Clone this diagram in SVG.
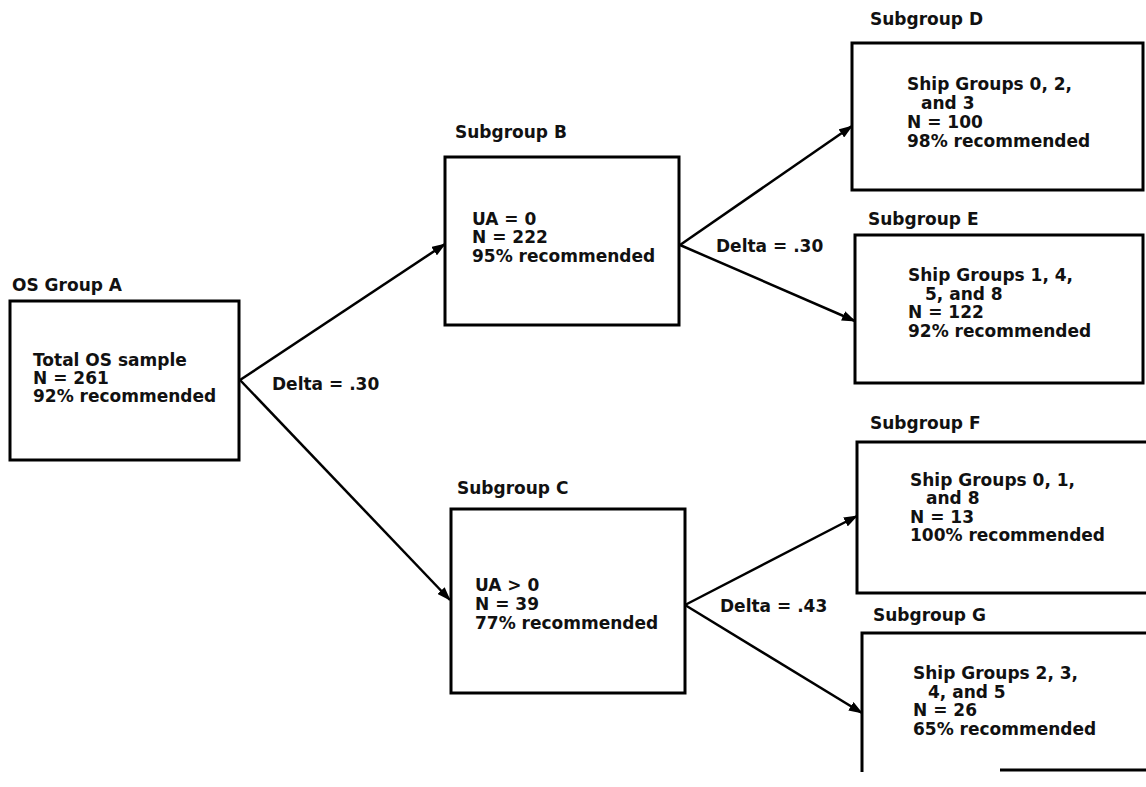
<svg xmlns="http://www.w3.org/2000/svg" width="1146" height="787" viewBox="0 0 1146 787">
<style>
text{font-family:"DejaVu Sans","Liberation Sans",sans-serif;font-size:17px;font-weight:bold;fill:#111}
.box{fill:#fff;stroke:#000;stroke-width:3}
.edge{stroke:#000;stroke-width:2.5;fill:none;marker-end:url(#ah)}
</style>
<defs>
<marker id="ah" markerUnits="userSpaceOnUse" markerWidth="14" markerHeight="10" refX="13" refY="5" orient="auto">
<path d="M0,0 L14,5 L0,10 Z" fill="#000"/>
</marker>
</defs>
<rect width="1146" height="787" fill="#fff"/>
<g id="connectors">
<line class="edge" x1="240" y1="380" x2="445" y2="244"/>
<line class="edge" x1="240" y1="380" x2="450" y2="600"/>
<line class="edge" x1="680" y1="245" x2="852" y2="126"/>
<line class="edge" x1="680" y1="245" x2="855" y2="321"/>
<line class="edge" x1="685" y1="605" x2="857" y2="516"/>
<line class="edge" x1="685" y1="605" x2="862" y2="713"/>
<text x="272" y="390">Delta = .30</text>
<text x="716" y="252">Delta = .30</text>
<text x="720" y="612">Delta = .43</text>
</g>
<g id="nodeA">
<text x="12" y="291">OS Group A</text>
<rect class="box" x="10" y="301" width="229" height="159"/>
<text x="33" y="366">Total OS sample</text>
<text x="33" y="384">N = 261</text>
<text x="33" y="402">92% recommended</text>
</g>
<g id="nodeB">
<text x="455" y="138">Subgroup B</text>
<rect class="box" x="445" y="157" width="234" height="168"/>
<text x="472" y="225">UA = 0</text>
<text x="472" y="243">N = 222</text>
<text x="472" y="262">95% recommended</text>
</g>
<g id="nodeC">
<text x="457" y="494">Subgroup C</text>
<rect class="box" x="451" y="509" width="234" height="184"/>
<text x="475" y="591">UA &gt; 0</text>
<text x="475" y="610">N = 39</text>
<text x="475" y="629">77% recommended</text>
</g>
<g id="nodeD">
<text x="870" y="25">Subgroup D</text>
<rect class="box" x="852" y="43" width="291" height="147"/>
<text x="907" y="90">Ship Groups 0, 2,</text>
<text x="921" y="109">and 3</text>
<text x="907" y="128">N = 100</text>
<text x="907" y="147">98% recommended</text>
</g>
<g id="nodeE">
<text x="868" y="225">Subgroup E</text>
<rect class="box" x="855" y="235" width="288" height="148"/>
<text x="908" y="281">Ship Groups 1, 4,</text>
<text x="925" y="300">5, and 8</text>
<text x="908" y="318">N = 122</text>
<text x="908" y="337">92% recommended</text>
</g>
<g id="nodeF">
<text x="870" y="429">Subgroup F</text>
<rect class="box" x="857" y="442" width="292" height="151"/>
<text x="910" y="486">Ship Groups 0, 1,</text>
<text x="926" y="504">and 8</text>
<text x="910" y="523">N = 13</text>
<text x="910" y="541">100% recommended</text>
</g>
<g id="nodeG">
<text x="873" y="621">Subgroup G</text>
<path d="M862,772 V633 H1149 M1000,770 H1149" fill="none" stroke="#000" stroke-width="3"/>
<text x="913" y="679">Ship Groups 2, 3,</text>
<text x="928" y="698">4, and 5</text>
<text x="913" y="716">N = 26</text>
<text x="913" y="735">65% recommended</text>
</g>
</svg>
